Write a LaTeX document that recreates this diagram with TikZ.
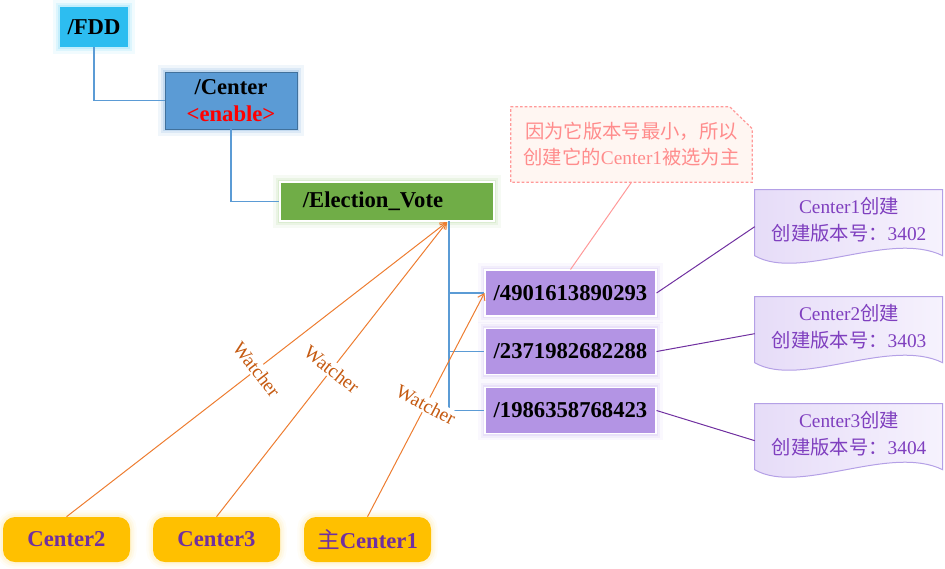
\documentclass[tikz,border=0pt]{standalone}
\usepackage{fontspec}
\setmainfont{Liberation Serif}
\newfontfamily\cjk{Noto Sans CJK SC}
\usetikzlibrary{arrows.meta,backgrounds}

\definecolor{fddblue}{HTML}{2DBDF0}
\definecolor{fddglow}{HTML}{9EE3FA}
\definecolor{centerblue}{HTML}{5B9BD5}
\definecolor{centeredge}{HTML}{41719C}
\definecolor{centerglow}{HTML}{9DC3E6}
\definecolor{votegreen}{HTML}{70AD47}
\definecolor{voteglow}{HTML}{C5E0B4}
\definecolor{numpurple}{HTML}{B394E4}
\definecolor{numglow}{HTML}{DCCFF5}
\definecolor{cgold}{HTML}{FFC000}
\definecolor{cglow}{HTML}{FFEFC0}
\definecolor{txtpurple}{HTML}{7030A0}
\definecolor{treeblue}{HTML}{5B9BD5}
\definecolor{watchorange}{HTML}{ED7D31}
\definecolor{watchbrown}{HTML}{C55A11}
\definecolor{docedge}{HTML}{B4A0E6}
\definecolor{docleft}{HTML}{E6DCF8}
\definecolor{docright}{HTML}{F6F2FD}
\definecolor{doctext}{HTML}{7F3FBF}
\definecolor{notepink}{HTML}{FF9999}
\definecolor{notefill}{HTML}{FFF6F2}
\definecolor{notetext}{HTML}{FF8C8C}

\tikzset{
  glow/.style={preaction={draw=#1,line width=10pt,opacity=.15},
               preaction={draw=#1,line width=6.5pt,opacity=.25},
               preaction={draw=#1,line width=3.5pt,opacity=.4}},
  boldtext/.style={font=\fontsize{17pt}{20pt}\selectfont\bfseries},
  tree/.style={draw=treeblue, line width=1pt},
  watch/.style={draw=watchorange, line width=.75pt, -{Straight Barb[length=4.5pt,width=6pt]}},
  docline/.style={draw=txtpurple, line width=.75pt},
  docbox/.style={draw=docedge, line width=.75pt, left color=docleft, right color=docright},
  notebox/.style={draw=notepink, fill=notefill, line width=.9pt, dash pattern=on 2pt off 1.5pt},
}

\begin{document}
\begin{tikzpicture}[x=0.75pt,y=-0.75pt]
  \useasboundingbox (0,0) rectangle (945,568);

  \begin{scope}[every node/.style={boldtext, inner sep=0pt}]
    \node[fill=fddblue, glow=fddglow, minimum width=51pt, minimum height=30pt] (fdd) at (94,27) {/FDD};
    \node[fill=centerblue, draw=centeredge, line width=.6pt, glow=centerglow, align=center,
          minimum width=99pt, minimum height=42.75pt] (center) at (231,100.5) {/Center\\\textcolor{red}{<enable>}};
    \node[fill=votegreen, draw=white, line width=.8pt, glow=voteglow,
          minimum width=160.5pt, minimum height=29.25pt] (vote) at (387,201.5) {/Election\_Vote\hspace*{21pt}};
  \end{scope}

  \begin{scope}[every node/.style={boldtext, fill=numpurple, draw=white, line width=.8pt, glow=numglow,
                                   minimum width=128.25pt, minimum height=34.5pt, inner sep=0pt}]
    \node (n1) at (570.5,293)   {/4901613890293};
    \node (n2) at (570.5,351.5) {/2371982682288};
    \node (n3) at (570.5,410.5) {/1986358768423};
  \end{scope}

  \begin{scope}[every node/.style={boldtext, text=txtpurple, fill=cgold, rounded corners=9pt, glow=cglow,
                                   minimum width=95.25pt, minimum height=33.75pt, inner sep=0pt}]
    \node (c2) at (66.5,539.5)  {Center2};
    \node (c3) at (216.5,539.5) {Center3};
    \node (c1) at (367.5,539.5) {{\cjk\mdseries 主}Center1};
  \end{scope}

  \begin{scope}[every node/.style={text=doctext, font=\fontsize{14.5pt}{20pt}\selectfont, align=center,
                                   minimum width=141pt, minimum height=46.5pt, inner sep=0pt}]
    \node (d1) at (849,220) {Center1{\cjk 创建}\\{\cjk 创建版本号：}3402};
    \node (d2) at (849,327) {Center2{\cjk 创建}\\{\cjk 创建版本号：}3403};
    \node (d3) at (849,434) {Center3{\cjk 创建}\\{\cjk 创建版本号：}3404};
  \end{scope}

  \node[text=notetext, font=\fontsize{14.5pt}{19.5pt}\selectfont, align=center,
        minimum width=180.75pt, minimum height=56.25pt, inner sep=0pt] (note) at (631.5,144.5)
        {{\cjk 因为它版本号最小，所以}\\{\cjk 创建它的}Center1{\cjk 被选为主}};

  \begin{scope}[on background layer]
    \foreach \d in {d1,d2,d3}
      \draw[docbox, shift={([yshift=-.75pt]\d.north west)}] (0,0) -- (188,0) -- (188,66)
        .. controls (135,40) and (45,92) .. (0,66) -- cycle;
    \draw[notebox] (note.north west) -- ([xshift=-17pt]note.north east)
      -- ([yshift=-16.5pt]note.north east) -- (note.south east) -- (note.south west) -- cycle;
  \end{scope}

  % tree
  \coordinate (bus) at (449,221);
  \draw[tree] (fdd.south) |- (center.west);
  \draw[tree] (center.south) |- (vote.west);
  \draw[tree] (bus) |- (n1.west);
  \draw[tree] (bus) |- (n2.west);
  \draw[tree] (bus) |- (n3.west);

  \draw[notepink, line width=.75pt] (note.south) -- (n1.north);
  \draw[docline] (n1.east) -- ([yshift=-5pt]d1.west);
  \draw[docline] (n2.east) -- ([yshift=-5pt]d2.west);
  \draw[docline] (n3.east) -- ([yshift=-5pt]d3.west);

  % watchers
  \coordinate (hit) at (447,222);
  \begin{scope}[every node/.style={midway, sloped, rotate=-90, fill=white, text=watchbrown,
                                   font=\fontsize{14.5pt}{16pt}\selectfont, inner sep=1pt}]
    \path (c2.north) edge[watch] node {Watcher} (hit);
    \path (c3.north) edge[watch] node {Watcher} (hit);
    \path (c1.north) edge[watch] node {Watcher} (n1.west);
  \end{scope}

\end{tikzpicture}
\end{document}
